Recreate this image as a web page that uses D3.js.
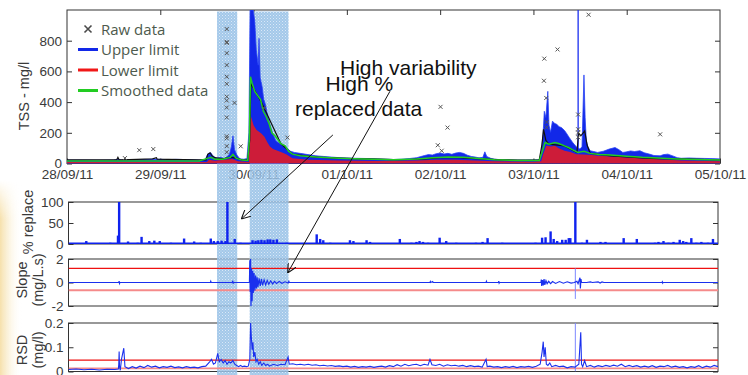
<!DOCTYPE html>
<html>
<head>
<meta charset="utf-8">
<script src="https://cdn.jsdelivr.net/npm/d3@7"></script>
<style>
	body { margin: 0; background: #fff; }
	svg { display: block; font-family: "Liberation Sans", Arial, sans-serif; }
	.axis .tick text { fill: #3a3a3a; font-size: 13.5px; }
	.axis line { stroke: #333; }
	.label { fill: #3a3a3a; font-size: 14.5px; }
	.legend { fill: #4d5a4d; font-family: "Open Sans", sans-serif; font-size: 15px; }
	.note { fill: #111; font-size: 21px; }
</style>
</head>
<body>
<svg id="chart" width="748" height="375"></svg>
<script>
// tick labels (one per day)
const dayLabels = ["28/09/11", "29/09/11", "30/09/11", "01/10/11", "02/10/11", "03/10/11", "04/10/11", "05/10/11"];

// all series are [hours since 28/09/11 00:00, value]
const upperLimit = [[0,22],[4,22],[8,21],[12,22],[13,28],[14,22],[18,24],[20,26],[22,28],[24,27],[26,25],[28,27],[30,26],[32,24],[34,22],[35.5,24],[36.3,65],[37,70],[37.6,48],[38.5,35],[39.5,40],[40.5,32],[41.2,45],[41.8,60],[42.3,110],[42.7,180],[43.1,90],[43.7,55],[44.5,30],[45.5,28],[46.3,32],[46.8,200],[47.1,1000],[47.5,1000],[47.9,1000],[48.3,930],[48.7,740],[49.2,640],[49.4,815],[49.7,560],[50.2,500],[50.6,420],[51.1,380],[51.7,300],[52.3,245],[53,190],[53.7,150],[54.3,137],[55.2,125],[56.1,115],[57,90],[57.5,80],[58.5,72],[60,66],[62,58],[64,50],[66,46],[68,42],[70,38],[72,36],[74,34],[76,33],[78,32],[80,30],[82,28],[84,26],[86,28],[88,32],[90,38],[91,45],[92,52],[93,58],[94,55],[95,64],[96,68],[97,62],[98,66],[99,60],[100,68],[101,72],[102,66],[103,54],[104,46],[105,42],[106,37],[107,40],[107.5,76],[108,45],[109,34],[110,28],[112,24],[114,23],[116,22],[118,22],[120,23],[121.5,24],[122,60],[122.5,200],[122.8,340],[123.2,300],[123.7,470],[124,250],[124.4,203],[124.9,276],[125.5,260],[126,255],[126.6,240],[127.2,234],[128,215],[128.4,201],[129.2,170],[130,140],[130.8,115],[131.4,100],[132,94],[132.5,110],[133,577],[133.3,300],[133.6,150],[134,110],[134.6,83],[135.5,78],[136.5,72],[138,80],[139.5,94],[141,104],[142,90],[143,72],[144,76],[145,82],[146,78],[147.4,83],[148.5,70],[150,60],[151,52],[152.6,50],[153.5,58],[154.6,61],[156,48],[157,38],[158,34],[160,36],[162,34],[164,33],[166,32],[168,30]];
const upperSpikes = [[131.5, 1000]];

const smoothed = [[0,16],[12,16],[24,16],[34,16],[36.3,35],[37,40],[38,28],[40,28],[42,40],[42.7,60],[43.5,35],[45,22],[46.5,20],[46.9,150],[47.2,565],[47.6,525],[48.3,470],[49.2,437],[49.8,416],[50.5,340],[51.2,308],[52,260],[52.7,200],[53.5,180],[55,130],[56.1,115],[57,80],[58,61],[60,50],[64,42],[70,35],[76,30],[84,24],[90,30],[94,38],[98,42],[102,40],[106,32],[110,24],[116,20],[121.5,20],[122.3,80],[123,137],[124,126],[125.5,137],[126.5,130],[128,115],[129,104],[130,90],[131.4,72],[133,80],[134.6,66],[137,58],[139.8,55],[144,48],[148,40],[152,36],[157,30],[162,26],[168,22]];

const lowerLimit = [[0,10],[24,10],[36,10],[36.5,25],[38,18],[42.5,30],[44,14],[46.8,10],[47,200],[47.3,310],[48,250],[48.7,220],[50,195],[50.8,175],[51.5,140],[52.2,110],[53,95],[54,85],[55.5,70],[56.5,58],[57.2,48],[58,35],[62,25],[70,20],[80,16],[90,20],[95,25],[100,25],[105,20],[110,14],[120,12],[122,14],[122.5,60],[123.3,115],[124.5,110],[125.5,115],[126.5,100],[128,83],[129.5,75],[131,61],[133,58],[135,55],[136.5,50],[140,45],[145,38],[147.4,34],[152,28],[158,20],[168,14]];

const rawLine = [[0,24],[10,24],[12.8,24],[13.1,40],[13.4,24],[16,25],[20,28],[22,30],[23,38],[23.2,28],[26,27],[30,26],[34,24],[35.8,24],[36.2,60],[36.8,70],[37.3,50],[38,38],[40,30],[42,40],[43.5,35],[45,24],[46.5,22],[47,150],[47.3,520],[50,400],[55,130],[58,60],[64,42],[70,35],[76,30],[80,28],[84,25],[88,26],[92,30],[96,38],[100,40],[104,34],[108,28],[112,24],[116,22],[121.5,24],[122.2,125],[122.6,223],[123.2,150],[124,126],[128,115],[131.2,72],[131.6,200],[132.2,180],[133.2,212],[133.8,120],[134.6,66],[140,50],[150,34],[160,28],[168,24]];

const rawPoints = [[14.9,35],[18.6,87],[22.2,94],[41.1,876],[41.1,792],[41.1,786],[41.1,719],[41.1,641],[41.1,565],[41.1,519],[41.1,435],[41.1,410],[41.1,365],[41.1,300],[41.1,177],[41.1,164],[41.1,113],[41.1,74],[43.1,395],[44.7,112],[50.7,362],[56.7,169],[95.4,119],[96.1,369],[96.4,83],[97.9,234],[122.7,539],[122.8,683],[123.3,427],[123.4,270],[123.4,235],[126.2,743],[131.5,319],[131.5,223],[131.5,201],[131.5,171],[134.2,969],[152.6,190]];

const pctReplaced = [[4.6,7],[10.8,3],[12.8,20],[13.1,100],[15.4,6],[17.9,3],[18.9,17],[20.9,7],[22.2,8],[23.6,7],[26.5,3],[29.9,13],[32.5,6],[34.2,3],[36.8,13],[37.6,7],[38.6,7],[39.6,8],[40.6,7],[41.1,100],[43,12],[44.5,3],[47.6,9],[48.4,8],[49.1,9],[49.9,10],[50.7,9],[51.5,11],[52.2,11],[53,10],[53.9,11],[56.5,3],[64.2,23],[65.1,12],[65.9,9],[67.7,3],[72.8,9],[73.7,7],[77.1,9],[78,5],[85.7,12],[88.7,3],[90,5],[90.8,7],[91.7,5],[93,3],[96,15],[97.7,7],[100.3,3],[105.4,3],[107.1,5],[108.4,14],[112.2,3],[115.3,2],[118.3,2],[120.8,3],[122.5,15],[123.4,16],[124.7,30],[125.5,12],[126.4,7],[127.7,10],[128.6,10],[129.4,14],[129.8,14],[131.1,100],[132.8,3],[134.1,10],[137.6,5],[138.9,5],[143.6,14],[147,12],[151.7,3],[152.6,5],[153.9,7],[155.2,3],[156.5,5],[158.1,10],[159,7],[159.8,5],[161.1,14],[162.4,3],[163.7,5],[165.4,3],[166.7,12]];

const slope = [[0,0],[13,0],[13.1,0.12],[13.2,-0.08],[13.3,0],[36.7,0],[36.8,0.1],[36.9,0],[42.4,0],[42.5,0.15],[42.6,-0.1],[42.7,0],[46.8,0],[46.9,1.9],[47,-0.8],[47.1,2],[47.2,-2],[47.35,1.2],[47.5,-1.6],[47.65,1],[47.8,-0.9],[48,0.8],[48.2,-0.7],[48.4,0.6],[48.6,-0.5],[48.8,0.45],[49,-0.4],[49.3,0.35],[49.6,-0.3],[49.9,0.3],[50.2,-0.25],[50.6,0.22],[51,-0.2],[51.4,0.18],[51.8,-0.15],[52.3,0.13],[52.8,-0.12],[53.3,0.1],[53.8,-0.08],[54.5,0.08],[55.2,-0.06],[56,0.06],[56.8,-0.05],[57,0.1],[57.1,0],[93.5,0],[93.6,0.08],[93.7,0],[94.2,0.08],[94.3,0],[108,0],[108.1,0.1],[108.2,0],[111.2,0],[111.3,0.12],[111.4,-0.05],[111.5,0],[122.2,0],[122.3,0.25],[122.4,-0.3],[122.6,0.2],[122.8,-0.25],[123,0.3],[123.2,-0.2],[123.5,0.15],[123.8,-0.1],[124.2,0.1],[124.7,-0.1],[125.2,0.08],[126,-0.08],[127,0.08],[128,-0.06],[129,0.06],[130,-0.05],[130.8,0],[131.5,0.1],[131.8,-0.1],[132.3,0.4],[132.4,-0.5],[132.55,0.3],[132.7,0],[134,0],[135,0.05],[135.5,0],[137,0.06],[137.5,-0.04],[138,0.05],[138.5,0],[153.5,0],[153.6,0.06],[153.7,-0.05],[153.8,0],[168,0]];
const slopeSpike = [131.1, 1.2, -1.4];
const slopeLimits = [1.2, -0.67];

const rsd = [[0,0.008],[2,0.01],[4,0.007],[6,0.009],[8,0.006],[10,0.009],[12,0.008],[12.9,0.01],[13,0.03],[13.1,0.082],[13.2,0.02],[13.4,0.005],[13.7,0.05],[14.3,0.096],[14.6,0.02],[15.5,0.012],[16.5,0.02],[17.5,0.014],[18.5,0.022],[19.5,0.016],[20.5,0.025],[21.5,0.018],[22.5,0.022],[23.5,0.015],[24.5,0.02],[25.5,0.017],[26.5,0.022],[27.5,0.016],[28.5,0.019],[29.5,0.015],[30.5,0.02],[31.5,0.016],[32.5,0.018],[33.5,0.015],[34.5,0.02],[35.5,0.022],[36.5,0.04],[37,0.05],[37.5,0.03],[38,0.035],[38.6,0.075],[39,0.04],[39.5,0.05],[40,0.035],[40.5,0.045],[41,0.03],[41.5,0.04],[42,0.035],[42.5,0.045],[43,0.03],[43.5,0.025],[44,0.02],[44.5,0.025],[45,0.02],[45.5,0.022],[46,0.02],[46.5,0.022],[46.9,0.05],[47.1,0.2],[47.3,0.14],[47.5,0.09],[47.7,0.12],[47.9,0.06],[48.2,0.08],[48.5,0.04],[48.8,0.05],[49.2,0.03],[49.6,0.04],[50,0.025],[50.5,0.035],[51,0.025],[51.5,0.03],[52,0.022],[53,0.03],[54,0.025],[55,0.03],[56,0.028],[56.8,0.06],[57.1,0.03],[58,0.032],[59,0.028],[60,0.03],[61,0.027],[62,0.03],[63,0.026],[64,0.028],[65,0.024],[66,0.026],[67,0.023],[68,0.025],[69,0.021],[70,0.023],[71,0.02],[72,0.022],[73,0.018],[74,0.021],[75,0.017],[76,0.02],[77,0.018],[78,0.021],[79,0.017],[80,0.02],[81,0.022],[82,0.018],[83,0.024],[84,0.02],[85,0.028],[86,0.022],[87,0.03],[88,0.024],[89,0.028],[90,0.03],[91,0.024],[92,0.03],[93,0.026],[93.5,0.05],[94,0.028],[95,0.025],[96,0.03],[97,0.022],[98,0.028],[99,0.024],[100,0.026],[101,0.022],[102,0.025],[103,0.02],[104,0.024],[105,0.02],[106,0.022],[107,0.018],[108,0.05],[108.3,0.02],[109,0.022],[110,0.018],[111,0.02],[112,0.016],[113,0.02],[114,0.017],[115,0.021],[116,0.016],[117,0.02],[118,0.018],[119,0.021],[120,0.017],[121,0.022],[122,0.03],[122.5,0.08],[122.8,0.123],[123,0.06],[123.3,0.1],[123.6,0.03],[124,0.025],[124.5,0.035],[125,0.02],[126,0.025],[127,0.02],[128,0.022],[129,0.015],[130,0.02],[131,0.018],[132,0.03],[132.5,0.162],[132.7,0.03],[133,0.02],[133.5,0.045],[134,0.02],[135,0.025],[136,0.018],[137,0.024],[138,0.02],[139,0.025],[140,0.021],[141,0.026],[142,0.022],[143,0.03],[144,0.02],[145,0.025],[146,0.02],[147,0.024],[148,0.018],[149,0.022],[150,0.018],[151,0.024],[152,0.017],[153,0.022],[154,0.02],[155,0.025],[156,0.018],[157,0.022],[158,0.017],[159,0.02],[160,0.015],[161,0.02],[162,0.017],[163,0.024],[164,0.016],[165,0.022],[166,0.018],[167,0.025],[168,0.02]];
const rsdSpike = [131.1, 0.2];
const rsdLimits = [0.047, 0.013];

// shaded periods, hours
const highlights = [[38.6, 43.8], [47.0, 57.0]];

const legendItems = ["Raw data", "Upper limit", "Lower limit", "Smoothed data"];
const legendColors = [null, "#1228e8", "#f01818", "#22cc22"];

const days = dayLabels.map(d3.timeParse("%d/%m/%y"));
const at = h => new Date(+days[0] + h * 36e5);

const svg = d3.select("#chart");
const defs = svg.append("defs");

// slide background glow, bottom left
let glow = defs.append("linearGradient").attr("id", "glow");
glow.append("stop").attr("offset", 0).attr("stop-color", "#f3d690").attr("stop-opacity", 0.75);
glow.append("stop").attr("offset", 0.45).attr("stop-color", "#f7e4b4").attr("stop-opacity", 0.35);
glow.append("stop").attr("offset", 1).attr("stop-color", "#fff").attr("stop-opacity", 0);
let fade = defs.append("linearGradient").attr("id", "fade").attr("x2", 0).attr("y2", 1);
fade.append("stop").attr("offset", 0).attr("stop-color", "#fff").attr("stop-opacity", 0);
fade.append("stop").attr("offset", 0.2).attr("stop-color", "#fff").attr("stop-opacity", 1);
defs.append("mask").attr("id", "fade-mask")
	.append("rect").attr("x", 0).attr("y", 180).attr("width", 30).attr("height", 195).attr("fill", "url(#fade)");
svg.append("rect").attr("x", 0).attr("y", 180).attr("width", 22).attr("height", 195)
	.attr("fill", "url(#glow)").attr("mask", "url(#fade-mask)");

let pat = defs.append("pattern").attr("id", "dots").attr("width", 3).attr("height", 3).attr("patternUnits", "userSpaceOnUse");
pat.append("rect").attr("width", 3).attr("height", 3).attr("fill", "#93bee6");
pat.append("rect").attr("width", 1).attr("height", 1).attr("fill", "#d3e5f5");
pat.append("rect").attr("x", 1.5).attr("y", 1.5).attr("width", 1).attr("height", 1).attr("fill", "#bfd9f0");

const xTop = d3.scaleTime().domain([days[0], days[7]]).range([67, 720]);
const xLow = d3.scaleTime().domain([days[0], days[7]]).range([68.5, 718]);

const yTss = d3.scaleLinear().domain([0, 1000]).range([163.5, 10]);
const yPct = d3.scaleLinear().domain([0, 100]).range([244, 202]);
const ySlope = d3.scaleLinear().domain([-2, 2]).range([306, 259]);
const yRsd = d3.scaleLinear().domain([0, 0.2]).range([371.5, 323]);

function frame(x, y, ticks) {
	const [x0, x1] = x.range(), [y0, y1] = y.range();
	svg.append("rect")
		.attr("x", x0).attr("y", y1)
		.attr("width", x1 - x0).attr("height", y0 - y1)
		.attr("fill", "none").attr("stroke", "#333");
	svg.append("g")
		.attr("class", "axis")
		.attr("transform", `translate(${x0},0)`)
		.call(d3.axisLeft(y).tickValues(ticks).tickFormat(String).tickSize(-5).tickSizeOuter(0).tickPadding(5))
		.call(g => g.select(".domain").remove());
	svg.append("g")
		.attr("class", "axis")
		.attr("transform", `translate(${x1},0)`)
		.call(d3.axisRight(y).tickValues(ticks).tickFormat("").tickSize(-5).tickSizeOuter(0))
		.call(g => g.select(".domain").remove());
}

function clip(id, x, y) {
	const [x0, x1] = x.range(), [y0, y1] = y.range();
	defs.append("clipPath").attr("id", id)
		.append("rect").attr("x", x0).attr("y", y1).attr("width", x1 - x0).attr("height", y0 - y1);
	return svg.append("g").attr("clip-path", `url(#${id})`);
}

frame(xTop, yTss, [0, 200, 400, 600, 800]);
frame(xLow, yPct, [0, 50, 100]);
frame(xLow, ySlope, [-2, 0, 2]);
frame(xLow, yRsd, [0, 0.1, 0.2]);

svg.append("g")
	.attr("class", "axis")
	.attr("transform", `translate(0,${yTss(0)})`)
	.call(d3.axisBottom(xTop).tickValues(days).tickFormat((d, i) => dayLabels[i]).tickSize(-5).tickSizeOuter(0).tickPadding(5.5))
	.call(g => g.select(".domain").remove());
svg.append("g")
	.attr("class", "axis")
	.attr("transform", `translate(0,${yTss(1000)})`)
	.call(d3.axisTop(xTop).tickValues(days.slice(1, 7)).tickFormat("").tickSize(-5).tickSizeOuter(0))
	.call(g => g.select(".domain").remove());

// y labels
function yLabel(lines, x, y) {
	lines.forEach((s, i) => {
		svg.append("text")
			.attr("class", "label")
			.attr("transform", `translate(${x + i * 16},${y}) rotate(-90)`)
			.attr("text-anchor", "middle")
			.text(s);
	});
}
yLabel(["TSS - mg/l"], 29, 96);
yLabel(["% replace"], 33, 222);
yLabel(["Slope", "(mg/L.s)"], 27, 280);
yLabel(["RSD", "(mg/l)"], 27, 350);

// shaded periods
svg.append("g")
	.selectAll("rect")
	.data(highlights)
	.join("rect")
		.attr("x", d => xTop(at(d[0])))
		.attr("y", 11.5)
		.attr("width", d => xTop(at(d[1])) - xTop(at(d[0])))
		.attr("height", 375)
		.attr("fill", "url(#dots)")
		.attr("opacity", 0.85);

// TSS panel
let tssG = clip("c-top", xTop, yTss);
let area = d3.area().x(d => xTop(at(d[0]))).y0(yTss(0)).y1(d => yTss(d[1]));
let line = d3.line().x(d => xTop(at(d[0]))).y(d => yTss(d[1]));

tssG.append("path").datum(upperLimit).attr("d", area).attr("fill", "#1228e8").attr("stroke", "#2a44f5").attr("stroke-width", 0.8);
tssG.selectAll(".spike")
	.data(upperSpikes)
	.join("line")
		.attr("x1", d => xTop(at(d[0]))).attr("x2", d => xTop(at(d[0])))
		.attr("y1", yTss(0)).attr("y2", d => yTss(d[1]))
		.attr("stroke", "#1a2ef0").attr("stroke-width", 1.3);
tssG.append("path").datum(lowerLimit).attr("d", area).attr("fill", "#ee1a1a").attr("opacity", 0.85);
tssG.append("path").datum(rawLine).attr("d", line).attr("fill", "none").attr("stroke", "#111").attr("stroke-width", 1.2);
tssG.append("path").datum(smoothed).attr("d", line).attr("fill", "none").attr("stroke", "#22cc22").attr("stroke-width", 1.5);

tssG.selectAll(".raw")
	.data(rawPoints)
	.join("path")
		.attr("d", d => {
			const cx = xTop(at(d[0])), cy = yTss(d[1]);
			return `M${cx - 2},${cy - 2}L${cx + 2},${cy + 2}M${cx - 2},${cy + 2}L${cx + 2},${cy - 2}`;
		})
		.attr("stroke", "#555").attr("stroke-width", 1);

// legend
let legend = svg.append("g").attr("transform", "translate(78,29)");
legendItems.forEach((name, i) => {
	const row = legend.append("g").attr("transform", `translate(0,${i * 20.5})`);
	if (legendColors[i]) {
		row.append("line").attr("x1", 0).attr("x2", 20).attr("stroke", legendColors[i]).attr("stroke-width", 3);
	} else {
		row.append("path").attr("d", "M6.5,-3.5L13.5,3.5M6.5,3.5L13.5,-3.5").attr("stroke", "#4a4a4a").attr("stroke-width", 1.6);
	}
	row.append("text").attr("class", "legend").attr("x", 23).attr("y", 5.5).text(name);
});

// % replace panel
let pct = clip("c-pct", xLow, yPct);
pct.selectAll("rect")
	.data(pctReplaced)
	.join("rect")
		.attr("x", d => xLow(at(d[0])) - 1.2)
		.attr("y", d => yPct(d[1]))
		.attr("width", 2.4)
		.attr("height", d => yPct(0) - yPct(d[1]))
		.attr("fill", "#0f22ee");
pct.append("line")
	.attr("x1", xLow.range()[0]).attr("x2", xLow.range()[1])
	.attr("y1", yPct(0) - 0.8).attr("y2", yPct(0) - 0.8)
	.attr("stroke", "#0f22ee").attr("stroke-width", 1.6);

// slope panel
let slp = clip("c-slope", xLow, ySlope);
slp.selectAll(".limit")
	.data(slopeLimits)
	.join("line")
		.attr("x1", xLow.range()[0]).attr("x2", xLow.range()[1])
		.attr("y1", d => ySlope(d)).attr("y2", d => ySlope(d))
		.attr("stroke", (d, i) => i ? "#f58a8a" : "#ee1111")
		.attr("stroke-width", (d, i) => i ? 2 : 1.2);
slp.append("line")
	.attr("x1", xLow(at(slopeSpike[0]))).attr("x2", xLow(at(slopeSpike[0])))
	.attr("y1", ySlope(slopeSpike[1])).attr("y2", ySlope(slopeSpike[2]))
	.attr("stroke", "#7d88ff").attr("stroke-width", 1);
slp.append("path")
	.datum(slope)
	.attr("d", d3.line().x(d => xLow(at(d[0]))).y(d => ySlope(d[1])))
	.attr("fill", "none").attr("stroke", "#1a30ee").attr("stroke-width", 1.2);

// RSD panel
let rs = clip("c-rsd", xLow, yRsd);
rs.selectAll(".limit")
	.data(rsdLimits)
	.join("line")
		.attr("x1", xLow.range()[0]).attr("x2", xLow.range()[1])
		.attr("y1", d => yRsd(d)).attr("y2", d => yRsd(d))
		.attr("stroke", (d, i) => i ? "#f58a8a" : "#ee1111")
		.attr("stroke-width", (d, i) => i ? 1.8 : 1.2);
rs.append("line")
	.attr("x1", xLow(at(rsdSpike[0]))).attr("x2", xLow(at(rsdSpike[0])))
	.attr("y1", yRsd(0)).attr("y2", yRsd(rsdSpike[1]))
	.attr("stroke", "#7d88ff").attr("stroke-width", 1);
rs.append("path")
	.datum(rsd)
	.attr("d", d3.line().x(d => xLow(at(d[0]))).y(d => yRsd(d[1])))
	.attr("fill", "none").attr("stroke", "#1a30ee").attr("stroke-width", 1.1);

// annotations
defs.append("marker")
	.attr("id", "arrow")
	.attr("viewBox", "0 0 10 10").attr("refX", 10).attr("refY", 5)
	.attr("markerWidth", 9).attr("markerHeight", 9).attr("markerUnits", "userSpaceOnUse")
	.attr("orient", "auto")
	.append("path")
		.attr("d", "M0,0L10,5L0,10")
		.attr("fill", "none").attr("stroke", "#111").attr("stroke-width", 1.2);

svg.append("line")
	.attr("x1", xTop(at(68.4))).attr("y1", yTss(186))
	.attr("x2", xLow(at(44.7))).attr("y2", yPct(59.5))
	.attr("stroke", "#111").attr("marker-end", "url(#arrow)");
svg.append("line")
	.attr("x1", xTop(at(83.1))).attr("y1", yTss(471))
	.attr("x2", xLow(at(56.7))).attr("y2", ySlope(0.82))
	.attr("stroke", "#111").attr("marker-end", "url(#arrow)");

svg.append("text").attr("class", "note").attr("x", 340).attr("y", 75).text("High variability");
svg.append("text").attr("class", "note").attr("x", 325.5).attr("y", 91).text("High %");
svg.append("text").attr("class", "note").attr("x", 295).attr("y", 116).text("replaced data");
</script>
</body>
</html>
